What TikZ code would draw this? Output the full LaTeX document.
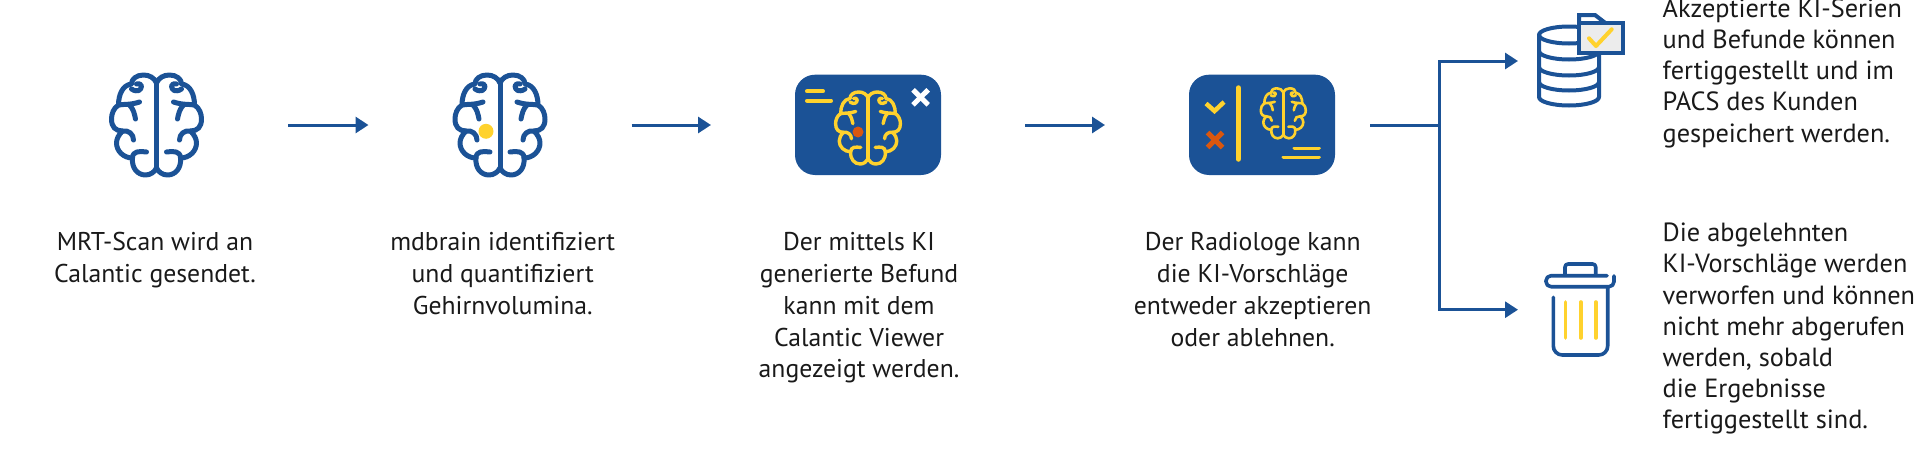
\documentclass[tikz,border=0pt]{standalone}
\usepackage{fontspec}
\setmainfont{PT Sans}
\usetikzlibrary{arrows.meta}

\definecolor{calblue}{HTML}{1B5296}
\definecolor{calyellow}{HTML}{FFD22D}
\definecolor{calorange}{HTML}{D9570F}
\definecolor{callight}{HTML}{ECECEC}

\tikzset{
  iconbox/.style={inner sep=0pt,outer sep=0pt,minimum height=20pt},
  flow/.style={calblue,line width=3pt,line cap=butt,-{Triangle[length=13pt,width=16pt]}},
  flowline/.style={calblue,line width=3pt,line cap=butt},
  caption/.style={inner sep=0pt,outer sep=0pt,anchor=north,align=center,text=black!90,
    font=\fontsize{25.7}{31.8}\selectfont},
  sidenote/.style={inner sep=0pt,outer sep=0pt,anchor=north west,align=left,text=black!90,
    font=\fontsize{26.3}{31.2}\selectfont},
  panel/.style={fill=calblue,rounded corners=20pt},
  brainpic/.pic={
    \foreach \s in {1,-1}{
      \begin{scope}[xscale=\s]
        \draw (0,-42) .. controls (-2,-47) and (-7,-50) .. (-13,-50)
          .. controls (-20,-50) and (-25,-46) .. (-25,-41)
          .. controls (-34,-40) and (-38,-30) .. (-38,-20)
          .. controls (-43,-17) and (-45,-11) .. (-45,-6)
          .. controls (-45,2) and (-41,6) .. (-34,6)
          .. controls (-38,10) and (-40,14) .. (-40,18)
          .. controls (-40,26) and (-33,33) .. (-24,33)
          .. controls (-25,43) and (-19,50) .. (-11,50)
          .. controls (-6,50) and (-2,47) .. (0,43);
        % folds
        \draw (-25,-36) .. controls (-19,-32) and (-15,-35) .. (-15,-39)
          .. controls (-15,-41) and (-18,-42) .. (-20,-41);
        \draw (-38,-20) .. controls (-32,-21) and (-26,-20) .. (-17,-23);
        \draw (-27,-20) .. controls (-23,-16) and (-22,-11) .. (-21,-6);
        \draw (-34,6) .. controls (-28,5) and (-23,9) .. (-23,15);
        \draw (-24,33) .. controls (-24,26) and (-17,26) .. (-10,27);
      \end{scope}
    }
    \draw (0,-42) -- (0,43);
  }
}

\begin{document}
\begin{tikzpicture}[x=1pt,y=-1pt,line cap=round,line join=round]
  \useasboundingbox (0,0) rectangle (1920,463);

  % icons
  \node[iconbox,minimum width=95pt] (scan) at (156.5,125) {};
  \pic[calblue,line width=5pt] at (scan) {brainpic};

  \node[iconbox,minimum width=95pt] (detect) at (500,125) {};
  \pic[calblue,line width=5pt] at (detect) {brainpic};
  \fill[calyellow] (486,131.3) circle (7.5);

  \node[iconbox,minimum width=146pt] (viewer) at (868,125) {};
  \fill[panel] (795,74.7) rectangle (941,175);
  \pic[calyellow,line width=3.4pt,scale=0.72] at (868,128) {brainpic};
  \fill[calorange] (858,132) circle (5.5);
  \draw[calyellow,line width=4pt] (807,91.3) -- (823,91.3);
  \draw[calyellow,line width=4pt] (807,100.7) -- (831,100.7);
  \draw[white,line width=5pt,line cap=butt] (913,89.8) -- (928.2,104.8);
  \draw[white,line width=5pt,line cap=butt] (928.2,89.8) -- (913,104.8);

  \node[iconbox,minimum width=146pt] (decide) at (1262,125) {};
  \fill[panel] (1189,74.7) rectangle (1335,175);
  \draw[calyellow,line width=5.5pt] (1238.3,88) -- (1238.3,159);
  \pic[calyellow,line width=2.6pt,scale=0.5] at (1283.3,113.3) {brainpic};
  \draw[calyellow,line width=4.5pt,line cap=butt,line join=miter] (1206,103.5) -- (1214.5,111) -- (1224,102);
  \draw[calorange,line width=5pt,line cap=butt] (1207.5,132.5) -- (1222.5,147.5);
  \draw[calorange,line width=5pt,line cap=butt] (1222.5,132.5) -- (1207.5,147.5);
  \draw[calyellow,line width=3.6pt] (1294.3,148.3) -- (1319,148.3);
  \draw[calyellow,line width=3.6pt] (1283.3,157.3) -- (1319,157.3);

  % database and folder
  \node[iconbox,minimum width=64pt] (store) at (1569,61) {};
  \begin{scope}[calblue,line width=4pt]
    \draw (1539,35) arc[start angle=180,end angle=360,x radius=30,y radius=-8.5];
    \draw (1539,35) arc[start angle=180,end angle=0,x radius=30,y radius=-8.5];
    \draw (1539,35) -- (1539,97) arc[start angle=180,end angle=360,x radius=30,y radius=-8.5] -- (1599,35);
    \foreach \y in {51,67,82}
      \draw (1539,\y) arc[start angle=180,end angle=360,x radius=30,y radius=-8.5];
    \draw[fill=white,line join=miter] (1579,22.7) -- (1579,15) -- (1595,15) -- (1605,22.7);
    \draw[fill=callight,line cap=butt,line join=miter] (1579,22.7) rectangle (1623.3,53.3);
  \end{scope}
  \draw[calyellow,line width=4pt] (1589,38.3) -- (1596,46) -- (1611.7,29.3);

  % bin
  \node[iconbox,minimum width=64pt] (bin) at (1580,309.7) {};
  \begin{scope}[calblue,line width=3.6pt]
    \draw (1565,274) -- (1565,267) [rounded corners=3pt] -- (1565,264) -- (1595.7,264) -- (1595.7,274);
    \draw[rounded corners=5pt] (1607,275.7) -- (1546,275.7) -- (1546,286.7) -- (1614,286.7) -- (1614,276);
    \draw[rounded corners=9pt] (1553.3,297.3) -- (1553.3,355) -- (1607.7,355) -- (1607.7,287);
  \end{scope}
  \foreach \x in {1565.3,1580.7,1595.7}
    \draw[calyellow,line width=3.6pt] (\x,302) -- (\x,338);

  % connectors
  \coordinate (fork) at (1439,125);
  \draw[flow,shorten <=84pt,shorten >=84pt] (scan.east) -- (detect.west);
  \draw[flow,shorten <=84pt,shorten >=84pt] (detect.east) -- (viewer.west);
  \draw[flow,shorten <=84pt,shorten >=84pt] (viewer.east) -- (decide.west);
  \draw[flowline,shorten <=35pt] (decide.east) -- (fork);
  \draw[flow,shorten >=19pt,line join=miter] (fork) |- (store.west);
  \draw[flow,shorten >=30pt,line join=miter] (fork) |- (bin.west);

  % texts
  \node[caption] (scantext) at (155,232.5) {MRT-Scan wird an\\Calantic gesendet.};
  \node[caption] (detecttext) at (502.7,232.5) {mdbrain identifiziert\\und quantifiziert\\Gehirnvolumina.};
  \node[caption] (viewertext) at (859,232.5) {Der mittels KI\\generierte Befund\\kann mit dem\\Calantic Viewer\\angezeigt werden.};
  \node[caption] (decidetext) at (1252.7,232.5) {Der Radiologe kann\\die KI-Vorschläge\\entweder akzeptieren\\oder ablehnen.};
  \node[sidenote] (storetext) at (1662.7,-1.5) {Akzeptierte KI-Serien\\und Befunde können\\fertiggestellt und im\\PACS des Kunden\\gespeichert werden.};
  \node[sidenote] (bintext) at (1662.7,223) {Die abgelehnten\\KI-Vorschläge werden\\verworfen und können\\nicht mehr abgerufen\\werden, sobald\\die Ergebnisse\\fertiggestellt sind.};
\end{tikzpicture}
\end{document}
